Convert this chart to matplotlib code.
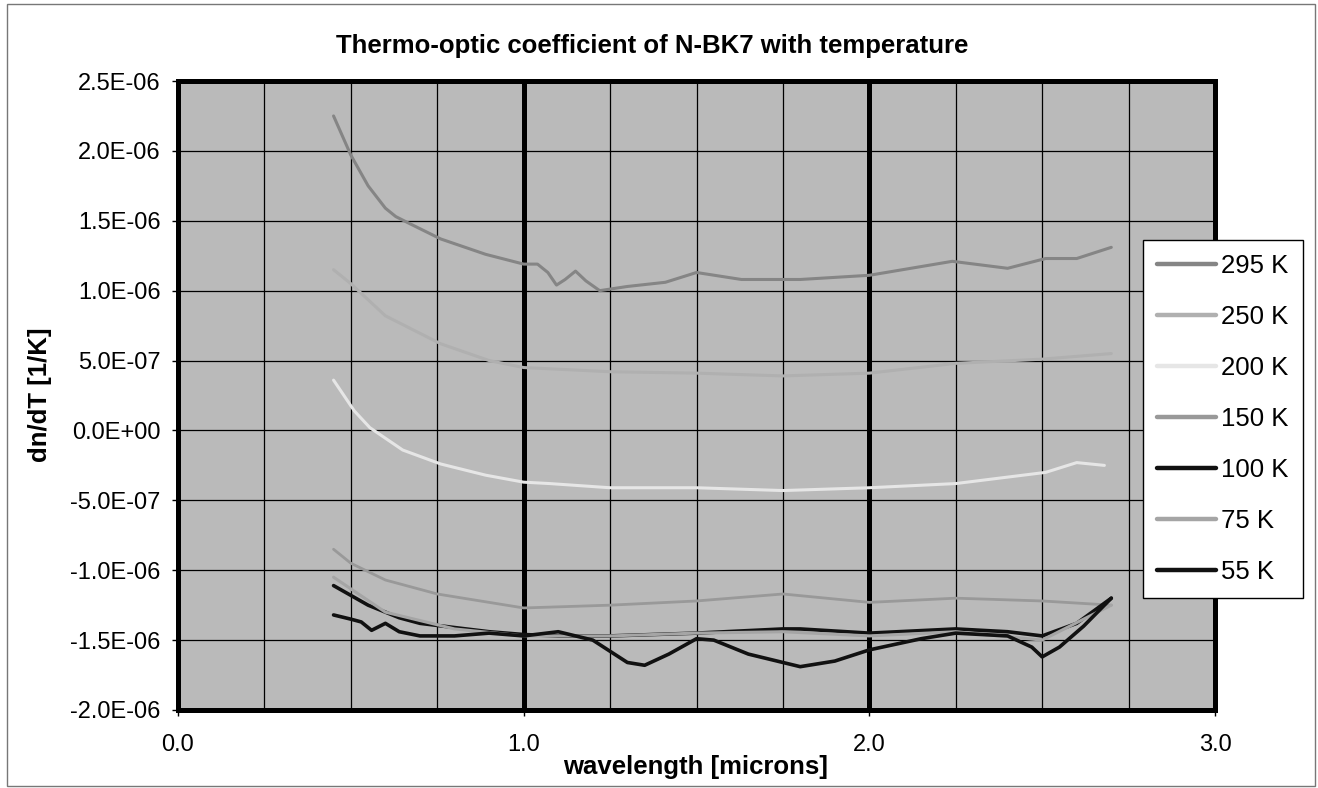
import matplotlib
matplotlib.use("Agg")
import matplotlib.pyplot as plt
from matplotlib.ticker import FuncFormatter, MultipleLocator
from matplotlib.patches import Rectangle

plt.rcParams['font.family'] = ['Liberation Sans', 'DejaVu Sans']

# ---- data (wavelength in microns, dn/dT in units of 1E-06 1/K) ----
wl_295 = [0.45, 0.50, 0.55, 0.60, 0.63, 0.67, 0.76, 0.89, 1.00, 1.04, 1.07, 1.095, 1.12, 1.15,
          1.18, 1.22, 1.30, 1.41, 1.50, 1.63, 1.80, 2.00, 2.24, 2.40, 2.51, 2.60, 2.70]
dn_295 = [2.25, 1.97, 1.75, 1.59, 1.53, 1.48, 1.37, 1.26, 1.19, 1.19, 1.13, 1.04, 1.08, 1.14,
          1.07, 1.00, 1.03, 1.06, 1.13, 1.08, 1.08, 1.11, 1.21, 1.16, 1.23, 1.23, 1.31]

wl_250 = [0.45, 0.50, 0.60, 0.76, 0.90, 1.00, 1.25, 1.50, 1.75, 2.00, 2.25, 2.50, 2.70]
dn_250 = [1.15, 1.05, 0.82, 0.62, 0.50, 0.45, 0.42, 0.41, 0.39, 0.41, 0.48, 0.51, 0.55]

wl_200 = [0.45, 0.51, 0.555, 0.65, 0.76, 0.89, 1.00, 1.075, 1.25, 1.50, 1.75, 2.00, 2.25,
          2.51, 2.60, 2.68]
dn_200 = [0.36, 0.14, 0.02, -0.14, -0.24, -0.32, -0.37, -0.38, -0.41, -0.41, -0.43, -0.41,
          -0.38, -0.30, -0.23, -0.25]

wl_150 = [0.45, 0.50, 0.60, 0.75, 1.00, 1.25, 1.50, 1.75, 2.00, 2.25, 2.50, 2.70]
dn_150 = [-0.85, -0.95, -1.07, -1.17, -1.27, -1.25, -1.22, -1.17, -1.23, -1.20, -1.22, -1.25]

wl_100 = [0.45, 0.50, 0.55, 0.60, 0.64, 0.70, 0.80, 0.90, 1.00, 1.10, 1.25, 1.50, 1.75, 1.80,
          2.00, 2.25, 2.40, 2.50, 2.60, 2.70]
dn_100 = [-1.11, -1.18, -1.25, -1.30, -1.34, -1.38, -1.41, -1.44, -1.46, -1.47, -1.47, -1.45,
          -1.42, -1.42, -1.45, -1.42, -1.44, -1.47, -1.38, -1.20]

wl_75 = [0.45, 0.60, 0.80, 1.00, 1.25, 1.50, 1.75, 2.00, 2.25, 2.50, 2.70]
dn_75 = [-1.05, -1.30, -1.42, -1.47, -1.47, -1.45, -1.44, -1.47, -1.44, -1.50, -1.25]

wl_55 = [0.45, 0.50, 0.53, 0.56, 0.60, 0.64, 0.70, 0.80, 0.90, 1.00, 1.10, 1.20, 1.25, 1.30,
         1.35, 1.42, 1.50, 1.55, 1.65, 1.80, 1.90, 2.00, 2.15, 2.25, 2.40, 2.47, 2.50, 2.55,
         2.62, 2.70]
dn_55 = [-1.32, -1.35, -1.37, -1.43, -1.38, -1.44, -1.47, -1.47, -1.45, -1.47, -1.44, -1.50,
         -1.58, -1.66, -1.68, -1.60, -1.49, -1.50, -1.60, -1.69, -1.65, -1.57, -1.49, -1.45,
         -1.47, -1.55, -1.62, -1.55, -1.40, -1.20]

series = [
    ("295 K", wl_295, dn_295),
    ("250 K", wl_250, dn_250),
    ("200 K", wl_200, dn_200),
    ("150 K", wl_150, dn_150),
    ("100 K", wl_100, dn_100),
    ("75 K", wl_75, dn_75),
    ("55 K", wl_55, dn_55),
]
colors = ["#858585", "#b0b0b0", "#e6e6e6", "#999999", "#111111", "#a5a5a5", "#111111"]
widths = [2.2, 2.2, 2.2, 2.0, 2.6, 2.2, 2.6]

W, H = 1318, 788
fig = plt.figure(figsize=(W / 100, H / 100), dpi=100)
fig.patch.set_facecolor("white")
ax = fig.add_axes([178 / W, 1 - 710 / H, 1037 / W, 629 / H])
ax.set_facecolor("#bababa")

for (lab, x, y), c, lw in zip(series, colors, widths):
    ax.plot(x, [v * 1e-6 for v in y], color=c, lw=lw, label=lab, solid_capstyle="round",
            solid_joinstyle="round", zorder=3)

ax.set_xlim(0, 3.0)
ax.set_ylim(-2.0e-6, 2.5e-6)
ax.xaxis.set_major_locator(MultipleLocator(1.0))
ax.xaxis.set_minor_locator(MultipleLocator(0.25))
ax.yaxis.set_major_locator(MultipleLocator(0.5e-6))
ax.xaxis.set_major_formatter(FuncFormatter(lambda v, p: f"{v:.1f}"))
ax.yaxis.set_major_formatter(FuncFormatter(lambda v, p: f"{v:.1E}"))

ax.xaxis.grid(True, which="minor", color="black", lw=0.9, zorder=1)
ax.xaxis.grid(True, which="major", color="black", lw=3.6, zorder=1)
ax.yaxis.grid(True, which="major", color="black", lw=0.9, zorder=1)
ax.set_axisbelow(True)

ax.tick_params(axis="both", which="major", direction="out", length=4.5, width=1,
               labelsize=17)
ax.tick_params(axis="x", which="major", pad=13)
ax.tick_params(axis="y", which="major", pad=8)
ax.tick_params(axis="x", which="minor", length=0)

for s in ax.spines.values():
    s.set_linewidth(3.6)
    s.set_color("black")

fig.text(652 / W, 1 - 46 / H, "Thermo-optic coefficient of N-BK7 with temperature",
         ha="center", va="center", fontsize=18.5, fontweight="bold")
fig.text(696 / W, 1 - 767 / H, "wavelength [microns]", ha="center", va="center",
         fontsize=18.5, fontweight="bold")
fig.text(40 / W, 1 - 395 / H, "dn/dT [1/K]", ha="center", va="center", rotation=90,
         fontsize=18.5, fontweight="bold")

leg = ax.legend(loc="upper left", bbox_to_anchor=((1143 - 178) / 1037, (710 - 240) / 629),
                frameon=True, fancybox=False, shadow=False, fontsize=18.5,
                handlelength=2.3, handletextpad=0.2, labelspacing=1.05,
                borderpad=0.55, borderaxespad=0.0)
leg.get_frame().set_edgecolor("black")
leg.get_frame().set_linewidth(1.0)
leg.get_frame().set_facecolor("white")
leg.get_frame().set_alpha(1.0)
for line in leg.get_lines():
    line.set_linewidth(3.2)
leg.set_zorder(10)

fig.add_artist(Rectangle((7 / W, 2 / H), (1315 - 7) / W, (786 - 4) / H,
                         transform=fig.transFigure, fill=False, edgecolor="#777777", lw=1))

fig.savefig("out.png", dpi=100)
